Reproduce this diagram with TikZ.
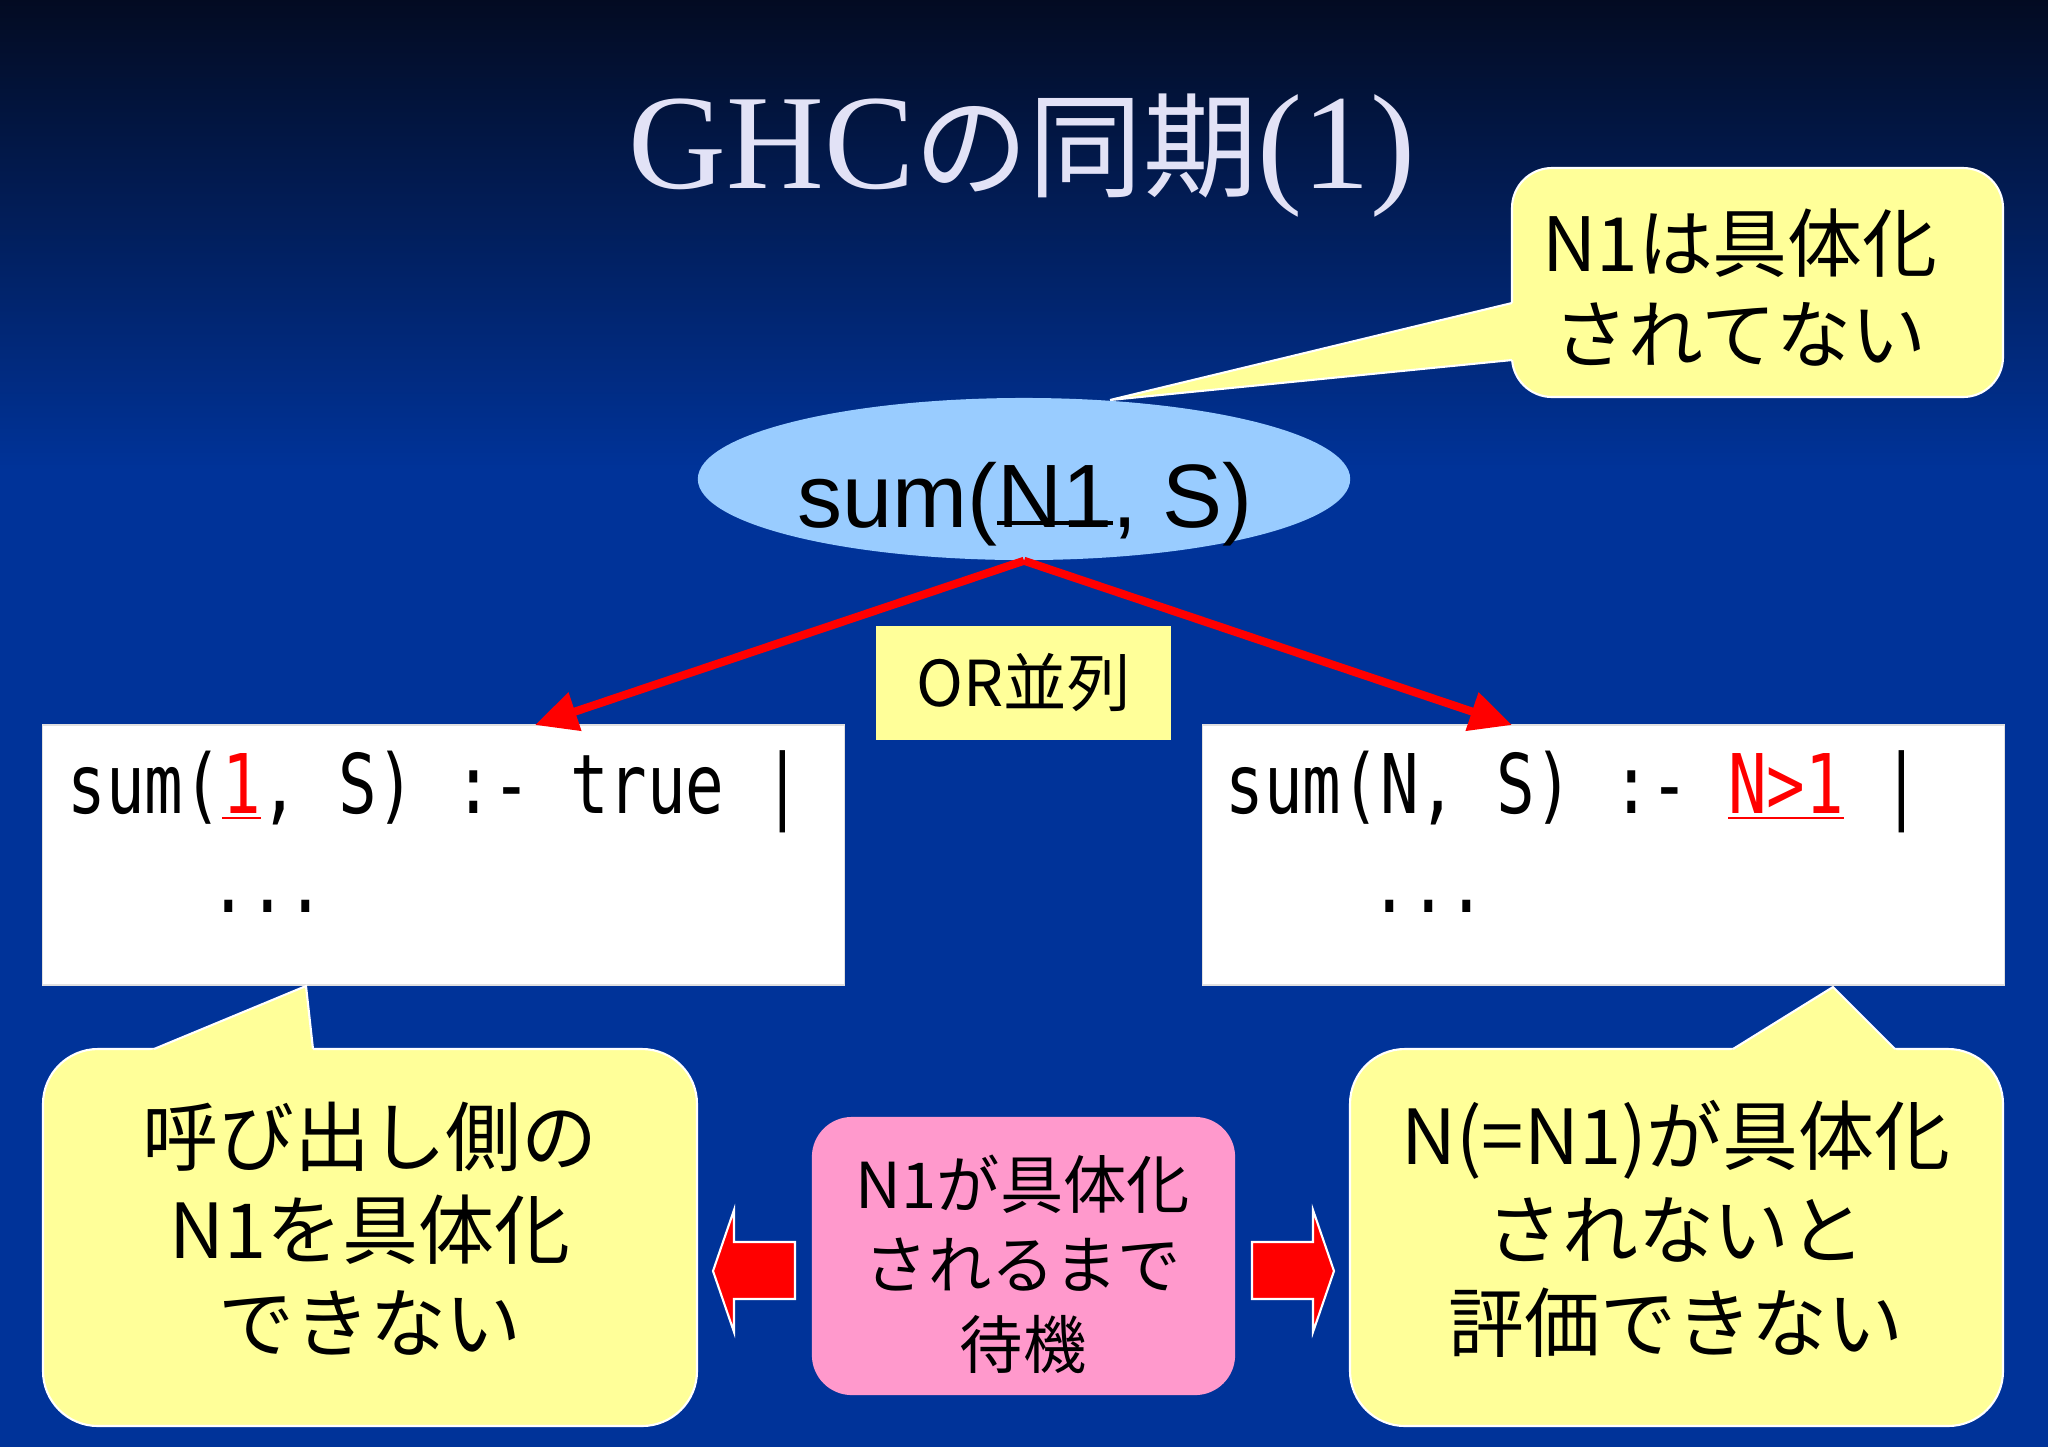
\documentclass[tikz,border=0pt]{standalone}
\usepackage{fontspec}
\setmainfont{Liberation Serif}
\newfontfamily\jp{Noto Sans CJK JP}
\newfontfamily\arialf{Liberation Sans}
\newfontfamily\codef[FakeStretch=0.78]{DejaVu Sans Mono}
\usetikzlibrary{arrows.meta,shapes.geometric}
\definecolor{bgblue}{HTML}{003399}
\definecolor{bgtop}{HTML}{030B22}
\definecolor{bgmid}{HTML}{001D5A}
\definecolor{bubyel}{HTML}{FFFF99}
\definecolor{ellblue}{HTML}{99CCFF}
\definecolor{pinkbox}{HTML}{FF99CC}
\definecolor{titlecol}{HTML}{E2E2F6}
\newcommand\mybaseul[1]{\setbox0=\hbox{#1}\rlap{\rule[0.5pt]{\wd0}{1.2pt}}\box0}
\tikzset{
  jptext/.style={font=\jp\fontsize{21.6}{26.5}\selectfont, align=center, inner sep=0pt, text=black},
  pinktext/.style={font=\jp\fontsize{18}{22.8}\selectfont, align=center, inner sep=0pt, text=black},
  codetext/.style={font=\codef\fontsize{23.4}{28}\selectfont, anchor=base west, inner sep=0pt, text=black},
  whitebox/.style={fill=white, draw=black!12, line width=0.4pt, inner sep=0pt},
  bubblebody/.style={fill=bubyel, draw=white, line width=0.6pt, rounded corners=0.55cm},
  bubbleedge/.style={draw=white, line width=0.6pt},
  redline/.style={draw=red, line width=2.3pt, -{Triangle[length=12pt,width=11pt]}},
  blockarrow/.style={fill=red, draw=white, line width=0.6pt},
}
\begin{document}
\begin{tikzpicture}[x=0.01cm,y=-0.01cm]
\useasboundingbox (0,0) rectangle (2048,1447);
% background
\shade[top color=bgtop, middle color=bgmid, bottom color=bgblue] (0,0) rectangle (2048,470);
\fill[bgblue] (0,469) rectangle (2048,1447);

% title
\node[anchor=base, inner sep=0pt, text=titlecol] (title) at (1022,188)
  {\fontsize{38.5}{40}\selectfont GHC{\jp\fontsize{32.5}{36}\selectfont の同期}(1)};

% top-right callout
\filldraw[bubblebody, rounded corners=0.4cm] (1512,168) rectangle (2003,397);
\fill[bubyel] (1110,400) -- (1522,300.6) -- (1522,359) -- cycle;
\draw[bubbleedge] (1512,303) -- (1110,400) -- (1512,360);
\node[jptext, font=\jp\fontsize{21.3}{25.9}\selectfont] (trtext) at (1740,288) {N1は具体化\\されてない};

% ellipse
\node[ellipse, fill=ellblue, minimum width=6.52cm, minimum height=1.62cm, inner sep=0pt] (ell) at (1024,479) {};
\node[anchor=base, inner sep=0pt, font=\arialf\fontsize{25.6}{30}\selectfont] (elltext) at (1025,527) {sum(\mybaseul{N1}, S)};

% OR box
\node[fill=bubyel, minimum width=2.95cm, minimum height=1.14cm, inner sep=0pt, font=\jp\fontsize{18}{22}\selectfont] (orbox) at (1023.5,683) {OR並列};

% code boxes
\node[whitebox, minimum width=8.01cm, minimum height=2.6cm] (lbox) at (443.5,855) {};
\node[whitebox, minimum width=8.01cm, minimum height=2.6cm] (rbox) at (1603.5,855) {};
\node[codetext] (lcode1) at (67,813) {sum(\textcolor{red}{\underline{1}}, S) :- true |};
\node[codetext] (lcode2) at (209,912) {...};
\node[codetext] (rcode1) at (1225,813) {sum(N, S) :- \textcolor{red}{\underline{N>1}} |};
\node[codetext] (rcode2) at (1370,912) {...};

% red arrows
\coordinate (lt) at (535,725);
\coordinate (rt) at (1512,725);
\draw[redline] (ell.south) -- (lt);
\draw[redline] (ell.south) -- (rt);

% bottom-left callout
\filldraw[bubblebody] (43,1049) rectangle (697,1426);
\fill[bubyel] (306,986) -- (130,1059) -- (314,1059) -- cycle;
\draw[bubbleedge] (154,1049) -- (306,986) -- (313,1049);
\node[jptext] (bltext) at (370,1229) {呼び出し側の\\N1を具体化\\できない};

% bottom-right callout
\filldraw[bubblebody] (1350,1049) rectangle (2003,1426);
\fill[bubyel] (1833,987) -- (1717,1059) -- (1905,1059) -- cycle;
\draw[bubbleedge] (1733,1049) -- (1833,987) -- (1895,1049);
\node[jptext] (brtext) at (1676,1229) {N(=N1)が具体化\\されないと\\評価できない};

% pink box
\node[fill=pinkbox, rounded corners=0.4cm, minimum width=4.23cm, minimum height=2.78cm, inner sep=0pt] (pink) at (1023.5,1256) {};
\node[pinktext] (pinktxt) at (1023,1264) {N1が具体化\\されるまで\\待機};

% block arrows
\filldraw[blockarrow] (713,1271) -- (734,1210) -- (734,1242) -- (795,1242) -- (795,1299) -- (734,1299) -- (734,1332) -- cycle;
\filldraw[blockarrow] (1334,1271) -- (1313,1210) -- (1313,1242) -- (1252,1242) -- (1252,1299) -- (1313,1299) -- (1313,1332) -- cycle;
\end{tikzpicture}
\end{document}
